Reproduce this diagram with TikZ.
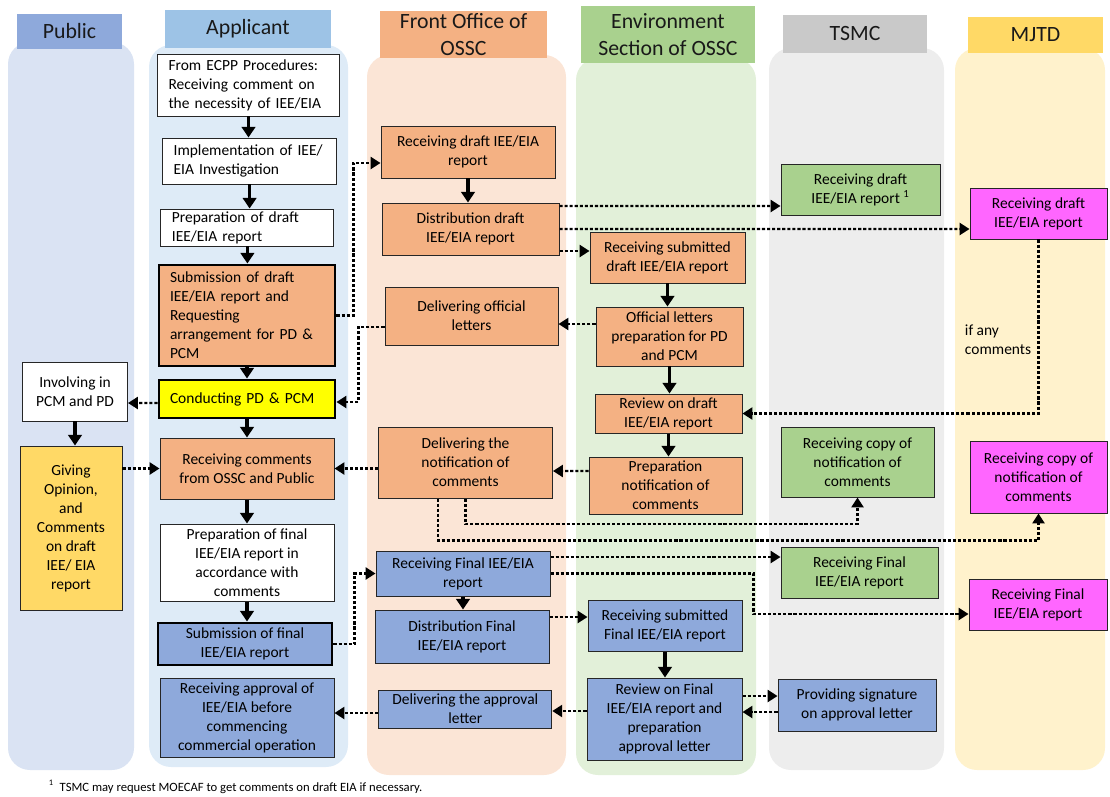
\documentclass[tikz,border=0pt]{standalone}
\usepackage{fontspec}
\setmainfont{Carlito}
\usetikzlibrary{arrows.meta,calc}
\newlength{\pxu}\setlength{\pxu}{0.025cm}
\definecolor{mypubhead}{HTML}{8EA9DB}
\definecolor{myapphead}{HTML}{9DC3E6}
\definecolor{myfronthead}{HTML}{F4B183}
\definecolor{myenvhead}{HTML}{A9D18E}
\definecolor{mytsmchead}{HTML}{C9C9C9}
\definecolor{mymjtdhead}{HTML}{FFD966}
\definecolor{mypubbg}{HTML}{DAE3F3}
\definecolor{myappbg}{HTML}{DEEBF7}
\definecolor{myfrontbg}{HTML}{FBE5D6}
\definecolor{myenvbg}{HTML}{E2F0D9}
\definecolor{mytsmcbg}{HTML}{EDEDED}
\definecolor{mymjtdbg}{HTML}{FFF2CC}
\definecolor{myorange}{HTML}{F4B183}
\definecolor{myblue}{HTML}{8EA9DB}
\definecolor{mygreen}{HTML}{A9D18E}
\definecolor{mymagenta}{HTML}{FF66FF}
\definecolor{myyellow}{HTML}{FFFF00}
\definecolor{mygold}{HTML}{FFD966}

\begin{document}
\begin{tikzpicture}[x=0.025cm,y=-0.025cm,
  box/.style={draw=black!85,line width=0.7pt,font=\fontsize{11}{13.5}\selectfont,
    align=center,inner sep=2\pxu},
  lbox/.style={box,align=left,inner xsep=11\pxu},
  heavybox/.style={draw=black,line width=2.1pt},
  lanehead/.style={font=\fontsize{15.5}{19}\selectfont,align=center,text=black!90},
  flow/.style={line width=2.2pt,-{Triangle[length=7.5pt,width=9.5pt]}},
  flowd/.style={line width=1.6pt,dash pattern=on 2.2pt off 1.4pt,
    -{Triangle[length=7pt,width=8.5pt]}}]
  \useasboundingbox (0,0) rectangle (1110,796);
  % lanes and their headers
  \fill[mypubbg,rounded corners=22\pxu]   (8,42) rectangle (134,770);
  \fill[myappbg,rounded corners=22\pxu]   (149,45) rectangle (348,767);
  \fill[myfrontbg,rounded corners=22\pxu] (367,55) rectangle (566,775);
  \fill[myenvbg,rounded corners=22\pxu]   (576,58) rectangle (756,775);
  \fill[mytsmcbg,rounded corners=22\pxu]  (769,48) rectangle (944,770);
  \fill[mymjtdbg,rounded corners=22\pxu]  (955,48) rectangle (1105,770);
  \fill[mypubhead]   (17,14) rectangle (122,49);
  \fill[myapphead]   (165,10) rectangle (331,48);
  \fill[myfronthead] (380,11) rectangle (547,58);
  \fill[myenvhead]   (581,6) rectangle (755,63);
  \fill[mytsmchead]  (783,15) rectangle (927,53);
  \fill[mymjtdhead]  (968,17) rectangle (1103,53);
  \node[lanehead] (hpub)   at (69.5,31.5) {Public};
  \node[lanehead] (happ)   at (248,29)    {Applicant};
  \node[lanehead] (hfront) at (463.5,34.5) {Front Office of\\OSSC};
  \node[lanehead] (henv)   at (668,34.5)  {Environment\\Section of OSSC};
  \node[lanehead] (htsmc)  at (855,34)    {TSMC};
  \node[lanehead] (hmjtd)  at (1035.5,35) {MJTD};
  % public
  \node[box,fill=white,minimum width=105\pxu,minimum height=59\pxu] (involve) at (75,391.5)
    {Involving in\\PCM and PD};
  \node[box,fill=mygold,minimum width=102\pxu,minimum height=164\pxu] (giving) at (71,528)
    {Giving\\Opinion,\\and\\Comments\\on draft\\IEE/ EIA\\report};
  % applicant
  \node[lbox,fill=white,text width=160\pxu,minimum height=62\pxu] (ecpp) at (248.5,85)
    {From ECPP Procedures:\\Receiving comment on\\the necessity of IEE/EIA};
  \node[lbox,fill=white,text width=152\pxu,minimum height=46\pxu] (impl) at (249.6,161)
    {Implementation of IEE/\\EIA Investigation};
  \node[lbox,fill=white,text width=151\pxu,minimum height=37\pxu] (prepdraft) at (247.4,227.5)
    {Preparation of draft\\IEE/EIA report};
  \node[lbox,heavybox,fill=myorange,text width=154\pxu,minimum height=101\pxu] (subdraft) at (247,315.5)
    {Submission of draft\\IEE/EIA report and\\Requesting\\arrangement for PD \&\\PCM};
  \node[lbox,heavybox,fill=myyellow,text width=154\pxu,minimum height=38\pxu] (conduct) at (247,399)
    {Conducting PD \& PCM};
  \node[box,fill=myorange,minimum width=174\pxu,minimum height=61\pxu] (reccom) at (247,468.5)
    {Receiving comments\\from OSSC and Public};
  \node[box,fill=white,minimum width=174\pxu,minimum height=77\pxu] (prepfinal) at (247,562.5)
    {Preparation of final\\IEE/EIA report in\\accordance with\\comments};
  \node[box,heavybox,fill=myblue,minimum width=174\pxu,minimum height=42\pxu] (subfinal) at (245,644)
    {Submission of final\\IEE/EIA report};
  \node[box,fill=myblue,minimum width=174\pxu,minimum height=79\pxu] (recapp) at (247,717.5)
    {Receiving approval of\\IEE/EIA before\\commencing\\commercial operation};
  % front office
  \node[box,fill=myorange,minimum width=174\pxu,minimum height=52\pxu] (recdraft) at (468,152)
    {Receiving draft IEE/EIA\\report};
  \node[box,fill=myorange,minimum width=177\pxu,minimum height=52\pxu] (distdraft) at (470.5,229)
    {Distribution draft\\IEE/EIA report};
  \node[box,fill=myorange,minimum width=173\pxu,minimum height=58\pxu] (delofficial) at (471.5,316)
    {Delivering official\\letters};
  \node[box,fill=myorange,minimum width=174\pxu,minimum height=71\pxu] (delnotif) at (465.5,462.5)
    {Delivering the\\notification of\\comments};
  \node[box,fill=myblue,minimum width=174\pxu,minimum height=45\pxu] (recfinal) at (463,573.5)
    {Receiving Final IEE/EIA\\report};
  \node[box,fill=myblue,minimum width=174\pxu,minimum height=53\pxu] (distfinal) at (462,636.5)
    {Distribution Final\\IEE/EIA report};
  \node[box,fill=myblue,minimum width=173\pxu,minimum height=38\pxu] (delapp) at (465.3,709)
    {Delivering the approval\\letter};
  % environment section
  \node[box,fill=myorange,minimum width=155\pxu,minimum height=51\pxu] (recsubdraft) at (667.5,257.5)
    {Receiving submitted\\draft IEE/EIA report};
  \node[box,fill=myorange,minimum width=147\pxu,minimum height=59\pxu] (official) at (669.5,336.5)
    {Official letters\\preparation for PD\\and PCM};
  \node[box,fill=myorange,minimum width=147\pxu,minimum height=39\pxu] (review) at (668.5,413.5)
    {Review on draft\\IEE/EIA report};
  \node[box,fill=myorange,minimum width=153\pxu,minimum height=57\pxu] (prepnotif) at (665.5,485.5)
    {Preparation\\notification of\\comments};
  \node[box,fill=myblue,minimum width=154\pxu,minimum height=51\pxu] (recsubfinal) at (665,625.5)
    {Receiving submitted\\Final IEE/EIA report};
  \node[box,fill=myblue,minimum width=155\pxu,minimum height=82\pxu] (reviewfinal) at (664.5,719)
    {Review on Final\\IEE/EIA report and\\preparation\\approval letter};
  % tsmc
  \node[box,fill=mygreen,minimum width=159\pxu,minimum height=51\pxu] (tsdraft) at (860.5,189.5)
    {Receiving draft\\IEE/EIA report \textsuperscript{1}};
  \node[box,fill=mygreen,minimum width=153\pxu,minimum height=70\pxu] (tscopy) at (857.5,462)
    {Receiving copy of\\notification of\\comments};
  \node[box,fill=mygreen,minimum width=157\pxu,minimum height=51\pxu] (tsfinal) at (859.5,572.5)
    {Receiving Final\\IEE/EIA report};
  \node[box,fill=myblue,minimum width=158\pxu,minimum height=52\pxu] (tssign) at (857,705)
    {Providing signature\\on approval letter};
  % mjtd
  \node[box,fill=mymagenta,minimum width=137\pxu,minimum height=51\pxu] (mjdraft) at (1038.5,213.5)
    {Receiving draft\\IEE/EIA report};
  \node[box,fill=mymagenta,minimum width=137\pxu,minimum height=72\pxu] (mjcopy) at (1038.5,477)
    {Receiving copy of\\notification of\\comments};
  \node[box,fill=mymagenta,minimum width=138\pxu,minimum height=51\pxu] (mjfinal) at (1038,604.5)
    {Receiving Final\\IEE/EIA report};
  \node[font=\fontsize{11}{13.5}\selectfont,align=left,anchor=north west] (ifany) at (960,320)
    {if any\\comments};
  % solid flow inside the lanes
  \foreach \a/\b in {ecpp/impl,impl/prepdraft,prepdraft/subdraft,subdraft/conduct,
      conduct/reccom,reccom/prepfinal,prepfinal/subfinal,involve/giving,
      recdraft/distdraft,recfinal/distfinal,recsubdraft/official,official/review,
      review/prepnotif,recsubfinal/reviewfinal}
    \draw[flow] (\a.south) -- (\a.south |- \b.north);
  % dotted hand-overs between the lanes
  \draw[flowd] (subdraft.east) -- ++(17,0) |- ($(recdraft.west)+(0,11)$);
  \draw[flowd] ($(delofficial.west)+(0,11)$) -- ++(-26,0) |- ($(conduct.east)+(0,3)$);
  \draw[flowd] ($(conduct.west)+(0,4)$) -- ($(involve.east)+(0,11.5)$);
  \draw[flowd] (giving.east |- reccom.west) -- (reccom.west);
  \draw[flowd] (delnotif.west |- reccom.east) -- (reccom.east);
  \draw[flowd] ($(distdraft.east)+(0,-23)$) -- ($(tsdraft.west)+(0,16.5)$);
  \draw[flowd] (distdraft.east) -- ($(mjdraft.west)+(0,15.5)$);
  \draw[flowd] ($(distdraft.east)+(0,22)$) -- ($(recsubdraft.west)+(0,-6.5)$);
  \draw[flowd] ($(official.west)+(0,-12.5)$) -- ($(delofficial.east)+(0,8)$);
  \draw[flowd] (mjdraft.south) |- (review.east);
  \draw[flowd] ($(prepnotif.west)+(0,-14.5)$) -- ($(delnotif.east)+(0,8.5)$);
  \draw[flowd] (delnotif.south) -- ++(0,25.5) -| (tscopy.south);
  \draw[flowd] ($(delnotif.south)+(-27.5,0)$) -- ++(0,42) -| (mjcopy.south);
  \draw[flowd] (subfinal.east) -- ++(21,0) |- (recfinal.west);
  \draw[flowd] ($(recfinal.east)+(0,-16.5)$) -- ($(tsfinal.west)+(0,-15.5)$);
  \draw[flowd] (recfinal.east) -- ++(203,0) |- ($(mjfinal.west)+(0,9.5)$);
  \draw[flowd] ($(distfinal.east)+(0,-19.5)$) -- ($(recsubfinal.west)+(0,-8.5)$);
  \draw[flowd] ($(reviewfinal.east)+(0,-23)$) -- ($(tssign.west)+(0,-9)$);
  \draw[flowd] ($(tssign.west)+(0,7)$) -- ($(reviewfinal.east)+(0,-7)$);
  \draw[flowd] ($(reviewfinal.west)+(0,-8)$) -- ($(delapp.east)+(0,2)$);
  \draw[flowd] ($(delapp.west)+(0,4)$) -- ($(recapp.east)+(0,-4.5)$);
  % footnote
  \node[font=\fontsize{9}{10.5}\selectfont,anchor=west] (fnote) at (44,787)
    {\textsuperscript{1}\ \ TSMC may request MOECAF to get comments on draft EIA if necessary.};
\end{tikzpicture}
\end{document}
